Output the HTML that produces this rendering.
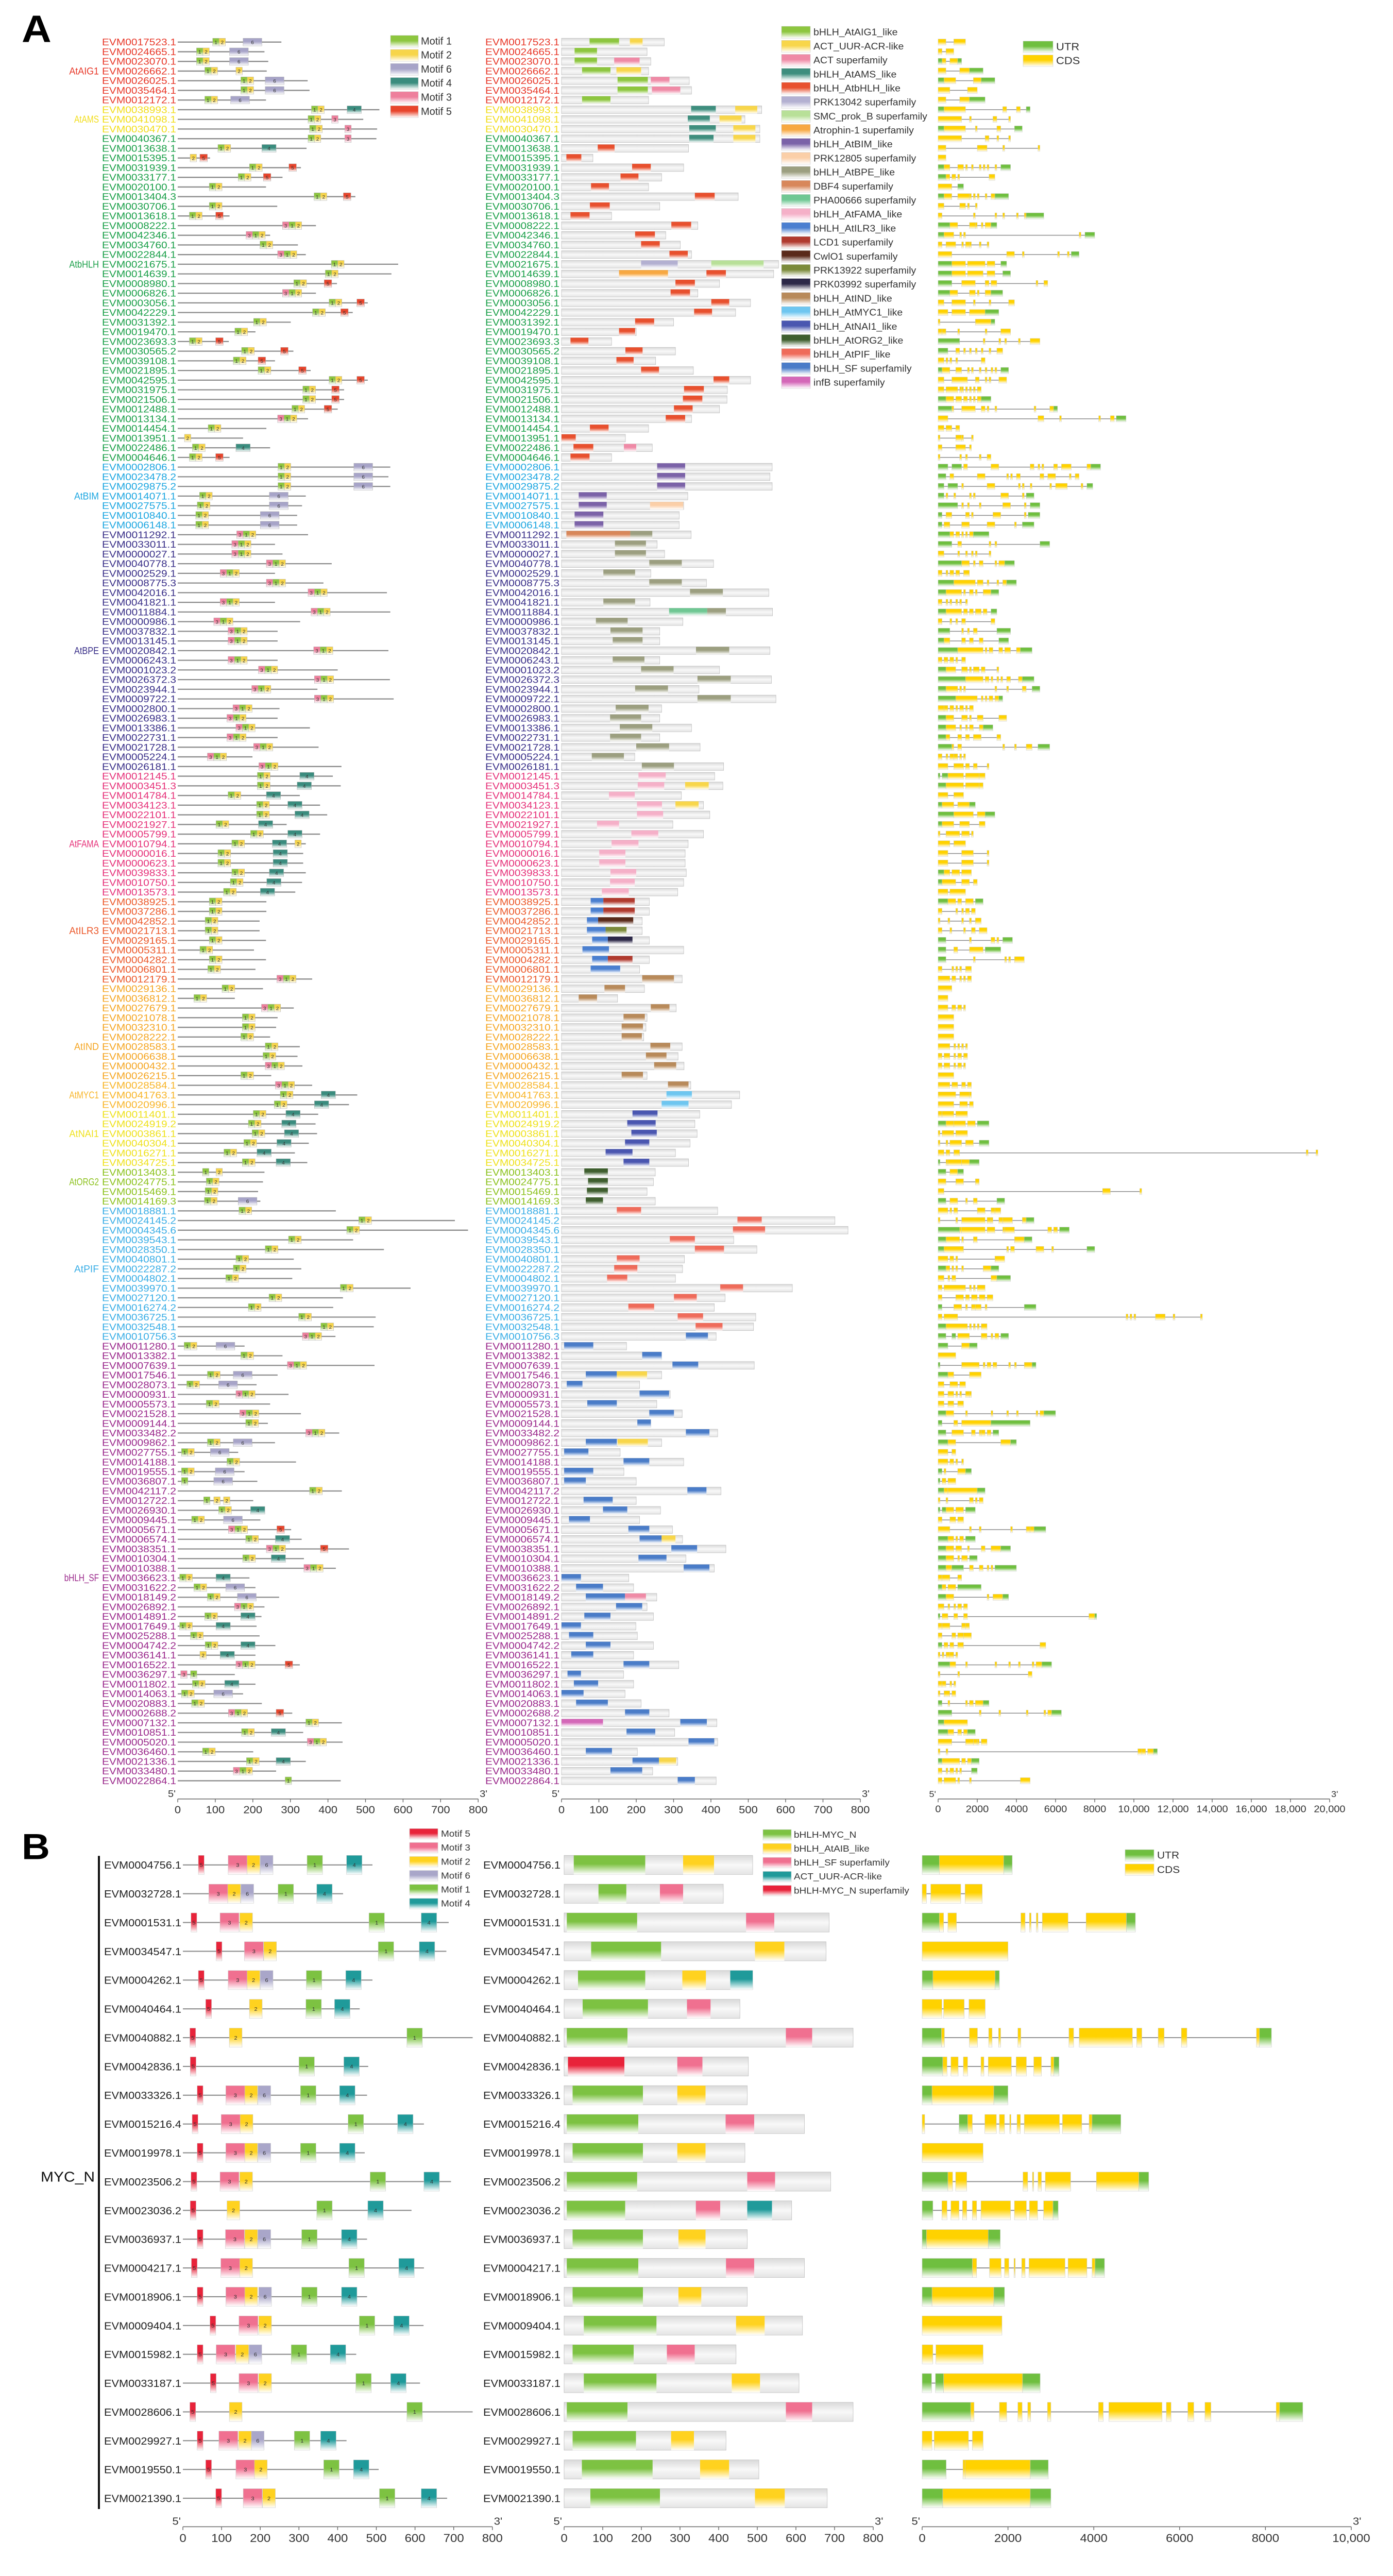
<!DOCTYPE html>
<html><head><meta charset="utf-8"><title>bHLH gene structure figure</title>
<style>html,body{margin:0;padding:0;background:#fff;width:100%;height:100%;overflow:hidden}svg#fig{display:block;position:fixed;left:0;top:0;width:100vw;height:100vh}text{font-family:"Liberation Sans",sans-serif}</style>
</head><body>
<svg id="fig" xmlns="http://www.w3.org/2000/svg" viewBox="0 0 2704 5387" preserveAspectRatio="none">
<defs id="defs"></defs>
<rect x="0" y="0" width="2704" height="5387" fill="#ffffff"/>
<text x="42" y="88" font-family="Liberation Serif,serif" font-weight="bold" font-size="80">A</text>
<text x="42" y="3888" font-family="Liberation Serif,serif" font-weight="bold" font-size="76">B</text>
<g id="layer"></g>
</svg>
<script>
// ---------------- Panel A data ----------------
const aGroupNames = ["AtAIG1","AtAMS","AtbHLH","AtBIM","AtBPE","AtFAMA","AtILR3","AtIND","AtMYC1","AtNAI1","AtORG2","AtPIF","bHLH_SF"];
const aGroupColors = ["#e8392a","#f2de1c","#1ca04a","#1ea7e1","#3a3089","#e6337a","#ec5a2c","#f5a623","#f8b62b","#efe21f","#8dc21f","#3aaee6","#9b2a8c"];
const aGroupCounts = [7,3,34,7,25,13,9,10,3,6,4,14,46];
const aGroupLabelRows = [4,9,24,48,64,84,93,105,110,114,119,128,160];
const aNames = ["17523.1","24665.1","23070.1","26662.1","26025.1","35464.1","12172.1",
"38993.1","41098.1","30470.1",
"40367.1","13638.1","15395.1","31939.1","33177.1","20100.1","13404.3","30706.1","13618.1","08222.1","42346.1","34760.1","22844.1","21675.1","14639.1","08980.1","06826.1","03056.1","42229.1","31392.1","19470.1","23693.3","30565.2","39108.1","21895.1","42595.1","31975.1","21506.1","12488.1","13134.1","14454.1","13951.1","22486.1","04646.1",
"02806.1","23478.2","29875.2","14071.1","27575.1","10840.1","06148.1",
"11292.1","33011.1","00027.1","40778.1","02529.1","08775.3","42016.1","41821.1","11884.1","00986.1","37832.1","13145.1","20842.1","06243.1","01023.2","26372.3","23944.1","09722.1","02800.1","26983.1","13386.1","22731.1","21728.1","05224.1","26181.1",
"12145.1","03451.3","14784.1","34123.1","22101.1","21927.1","05799.1","10794.1","00016.1","00623.1","39833.1","10750.1","13573.1",
"38925.1","37286.1","42852.1","21713.1","29165.1","05311.1","04282.1","06801.1","12179.1",
"29136.1","36812.1","27679.1","21078.1","32310.1","28222.1","28583.1","06638.1","00432.1","26215.1",
"28584.1","41763.1","20996.1",
"11401.1","24919.2","03861.1","40304.1","16271.1","34725.1",
"13403.1","24775.1","15469.1","14169.3",
"18881.1","24145.2","04345.6","39543.1","28350.1","40801.1","22287.2","04802.1","39970.1","27120.1","16274.2","36725.1","32548.1","10756.3",
"11280.1","13382.1","07639.1","17546.1","28073.1","00931.1","05573.1","21528.1","09144.1","33482.2","09862.1","27755.1","14188.1","19555.1","36807.1","42117.2","12722.1","26930.1","09445.1","05671.1","06574.1","38351.1","10304.1","10388.1","36623.1","31622.2","18149.2","26892.1","14891.2","17649.1","25288.1","04742.2","36141.1","16522.1","36297.1","11802.1","14063.1","20883.1","02688.2","07132.1","10851.1","05020.1","36460.1","21336.1","33480.1","22864.1"];
const aProtLen = [276,231,241,237,346,351,235,537,494,531,529,343,86,328,279,235,473,265,138,368,246,320,341,587,569,424,368,506,466,301,207,136,308,259,354,506,443,443,426,347,236,174,246,138,566,561,566,341,331,318,318,347,259,279,410,259,388,557,259,566,326,266,266,561,266,426,565,372,575,271,266,352,266,375,199,436,413,434,325,379,398,290,379,341,334,334,341,331,313,236,236,218,218,235,203,235,207,358,227,152,309,266,262,246,325,319,332,249,358,478,456,374,367,371,349,312,345,231,227,214,220,421,738,773,467,549,309,329,305,620,440,414,527,522,420,178,279,524,266,210,295,246,328,240,430,259,161,315,178,212,437,201,229,220,302,330,456,336,421,191,207,270,231,223,210,218,260,207,325,152,207,174,224,305,437,334,439,201,341,262,434];
const aMotifs = ["12:93 6:174","12:50 6:138","12:50 6:138","12:72 2:155","12:168 6:233","12:168 6:233","12:72 6:141","12:356 4:451","12:347 3:410","12:351 3:445","12:347 3:445","12:107 4:224","2:33 5:59","12:191 5:296","12:161 5:228","12:84","12:363 5:441","12:84","12:31 5:101","312:279","312:182","12:219","312:266","12:409","12:393","12:309 5:390","312:279","12:403 5:477","12:359 5:434","12:202","12:152","12:31 5:101","12:170 5:274","12:148 5:214","12:214 5:322","12:403 5:477","12:333 5:410","12:333 5:410","12:304 5:390","312:266","12:81","2:18","12:39 4:155","12:31 5:101",
"12:267 6:469","12:267 6:469","12:267 6:469","12:58 6:244","12:52 6:244","12:48 6:220","12:48 6:220",
"312:157","312:144","312:144","312:236","312:113","312:236","312:347","312:113","312:355","312:96","312:134","312:134","312:362","312:134","312:215","312:364","312:197","312:364","312:147","312:131","312:155","312:131","312:202","312:79","312:216",
"12:212 4:325","12:212 4:318","12:134 4:236","12:210 4:293","12:210 4:312","12:102 4:215","12:194 4:293","12:144 4:252 2:312","12:107 4:254","12:107 4:254","12:144 4:244","12:140 4:237","12:122 4:220",
"12:84","12:84","12:73","12:73","12:84","12:59","12:84","12:80","312:264",
"12:118","12:43","312:223","12:172","12:172","12:168","12:233","12:227","312:233","12:168",
"312:260","12:273 4:382","12:257 4:364",
"12:201 4:288","12:188 4:277","12:198 4:284","12:176 4:264","12:123 4:211","12:172 4:262",
"1:66 2:102","12:76","12:73","12:71 6:161",
"12:163","12:482","12:450","12:295","12:233","12:155","12:148","12:128","12:433","12:243","12:188","12:322","12:381","312:332",
"12:17 6:102","12:168","312:292","12:79 6:148","12:24 6:109","312:155","12:76","312:165","12:181","312:341","12:79 6:148","12:10 6:87","12:131","12:10 6:100","1:10 6:96","12:351","1:69 2:96 2:122","12:109 4:194","12:37 6:122","312:135 5:264","12:181 4:260","312:236 5:380","12:173 4:249","312:336","12:5 4:102","12:43 6:128","12:79 6:159","312:151","12:72 4:168","12:5 4:102","12:34","12:73 4:168","2:59 4:113","312:155 5:286","3:8 1:34","12:39 4:125","12:10 6:96","12:37","312:135 5:262","12:341","12:170 4:249","312:345","12:66","12:183 4:262","312:148","1:286"];
const aDomLen = [275,229,239,233,342,348,233,536,491,531,531,340,84,327,268,233,473,263,134,365,279,318,348,581,568,423,365,506,466,300,200,134,305,252,353,506,444,443,423,348,233,171,243,134,564,558,564,338,327,315,315,347,256,276,407,239,388,555,237,565,325,263,263,558,263,423,562,368,574,268,263,348,263,371,196,434,410,432,321,380,397,298,380,339,331,331,334,327,311,235,235,216,216,235,327,235,209,323,222,150,307,229,226,220,323,312,328,229,346,477,455,370,357,363,344,305,340,251,246,229,251,418,732,767,461,523,329,324,305,618,438,409,520,514,414,174,268,516,268,209,291,255,323,239,418,268,157,327,167,200,427,200,265,209,297,324,440,333,409,180,193,255,229,246,199,203,246,193,314,166,193,170,213,288,416,303,418,203,311,244,414];
const aDomains = ["AIG1:75-154 UUR:183-217","AIG1:35-95","AIG1:35-95 ACT:141-209","AIG1:55-131 UUR:147-213","AIG1:150-231 ACT:239-289","AIG1:150-231 ACT:242-318","AIG1:55-131","AMS:347-413 UUR:465-524","AMS:338-397 UUR:423-482","AMS:342-413 UUR:460-519","AMS:342-407 UUR:460-519","HLH:97-142","HLH:13-53","HLH:189-239","HLH:158-206","HLH:79-127","HLH:357-410","HLH:76-129","HLH:24-75","HLH:294-347","HLH:197-250","HLH:213-263","HLH:289-338","PRK42:213-311 SMC:401-541","ATR:154-285 HLH:388-440","HLH:305-357","HLH:292-344","HLH:401-449","HLH:355-403","HLH:197-248","HLH:154-197","HLH:24-72","HLH:171-217","HLH:147-193","HLH:213-261","HLH:407-449","HLH:328-381","HLH:325-377","HLH:301-351","HLH:279-331","HLH:76-126","HLH:0-38","HLH:32-85 ACT:167-200","HLH:24-75",
"BIM:256-331","BIM:256-331","BIM:256-331","BIM:46-121","BIM:46-121 P05:237-326","BIM:35-112","BIM:35-112",
"DBF:13-184 BPE:184-243","BPE:143-226","BPE:143-226","BPE:235-322","BPE:112-197","BPE:235-322","BPE:344-432","BPE:112-197","PHA:288-390 BPE:390-440","BPE:92-177","BPE:131-217","BPE:137-217","BPE:360-449","BPE:137-222","BPE:213-300","BPE:364-453","BPE:197-285","BPE:364-453","BPE:145-233","BPE:130-213","BPE:156-243","BPE:130-213","BPE:200-288","BPE:81-167","BPE:215-301",
"FAMA:206-279","FAMA:204-275 UUR:331-394","FAMA:127-196","FAMA:202-269 UUR:305-367","FAMA:202-272","FAMA:95-154","FAMA:187-259","FAMA:134-206","FAMA:101-171","FAMA:101-171","FAMA:131-200","FAMA:130-196","FAMA:108-180",
"ILR:78-112 LCD:112-196","ILR:78-112 LCD:112-196","ILR:68-98 CWL:98-192","ILR:68-118 P22:118-174","ILR:82-124 P92:124-190","ILR:56-127","ILR:82-124 LCD:124-190","ILR:78-157","IND:216-301",
"IND:115-170","IND:46-95","IND:239-289","IND:166-223","IND:161-218","IND:161-215","IND:238-291","IND:226-281","IND:248-307","IND:161-218",
"IND:285-340","MYC:281-349","MYC:268-340",
"NAI:190-257","NAI:176-252","NAI:187-255","NAI:170-235","NAI:118-190","NAI:166-235",
"ORG:61-124","ORG:71-124","ORG:68-124","ORG:65-111",
"PIF:148-213","PIF:471-536","PIF:459-545","PIF:290-357","PIF:357-435","PIF:148-209","PIF:141-203","PIF:122-176","PIF:425-486","PIF:301-362","PIF:179-248","PIF:311-379","PIF:359-431","SF:333-392",
"SF:7-85","SF:216-268","SF:297-366","SF:65-148 UUR:148-229","SF:14-56","SF:209-288","SF:69-148","SF:235-301","SF:203-239","SF:333-396","SF:65-148 UUR:150-231","SF:7-72","SF:166-235","SF:7-85","SF:7-65","SF:337-388","SF:59-137","SF:111-176","SF:20-76","SF:179-235","SF:209-268 UUR:268-305","SF:294-363","SF:206-281","SF:327-396","SF:0-52","SF:39-111","SF:65-170 ACT:170-226","SF:146-216","SF:61-131","SF:0-52","SF:20-85","SF:65-131","SF:26-85","SF:166-235","SF:16-52","SF:33-98","SF:0-59","SF:39-124","SF:170-235","INFB:0-111 SF:318-389","SF:174-251","SF:340-409","SF:65-135","SF:190-261 UUR:261-307","SF:131-216","SF:311-357"];
// gene structures, positions in units of 100 bp
const aGenes = ["0-4c 8-14c","0-2c 4-8c","0-2u 2-4c 6-10c 10-12u","0-4c 11-16c 16-23u","0-3u 3-9c 18-22c 22-29u","0-6c 15-20c","0-4c 11-16c 16-24u",
"0-3u 3-14c 33-35c 40-42c 45-47u","0-12c 16-17c 28-30c 36-37c","0-3u 3-14c 19-20c 30-32c 39-43u","0-12c 24-26c 30-31c 36-37c",
"0-4c 20-25c 33-34c 51-52c","0-4c","0-3u 3-6c 10-13c 14-15c 17-18c 21-22c 23-24c 25-26c 29-30c 32-37u","0-4u 4-6c 7-9c 10-11c 26-29c","0-7c 10-13u","0-3u 3-7c 10-16c 16-17c 18-19c 20-21c 24-25c 27-29c 29-36u","0-3c 11-14c 15-16c 19-20c","0-2c 18-19c 29-30c 33-34c 40-41c 44-45c 45-54u","0-6u 6-10c 16-19c 19-20c 22-23c 24-27c 27-30u","0-3u 3-8c 11-12c 13-14c 72-73c 75-80u","0-2c 4-9c 12-13c 14-16c 16-17c 21-22c 25-26c","0-7c 35-39c 43-44c 61-62c 66-67c 68-72u","0-7u 7-14c 15-24c 25-29c 32-35u","0-7u 7-14c 15-23c 25-29c 33-37u","0-7u 12-19c 24-26c 27-30c 50-51c 54-56c","0-6u 6-10c 16-19c 20-21c 24-27c 27-33u","0-3c 7-14c 18-19c 26-27c 36-39c","0-5c 7-14c 16-24c 24-31u","0-1c 19-27c 27-29u","0-2c 2-4c 10-11c 24-25c 32-37c","0-11u 23-24c 31-32c 34-35c 41-42c 47-52c","0-5u 9-11c 13-14c 16-17c 19-20c 22-23c 26-27c 30-33c","0-3c 4-5c 6-7c 9-10c 22-24c","0-2u 2-6c 9-12c 15-16c 17-18c 21-22c 24-25c 27-28c 29-30c 32-36u","0-3c 7-15c 19-21c 24-25c 26-27c 31-35c","0-3c 4-10c 11-12c 12-13c 14-15c 16-17c 18-19c 20-22c","0-4u 4-8c 9-12c 13-15c 16-17c 18-19c 20-22c 22-27u","0-7u 7-8c 12-19c 22-24c 25-26c 29-30c 49-50c 57-59c 59-61u","0-5c 51-54c 62-63c 82-83c 88-90c 91-96u","0-3c 4-7c 9-11c","0-1c 9-12c 12-13c 17-18c","0-2c 9-14c 16-17c","0-1c 11-12c 14-15c 21-22c 25-27c",
"0-5u 7-12u 13-15c 27-31c 47-49c 51-52c 53-54c 59-61c 63-68c 76-78c 78-83u","0-4u 6-8c 20-24c 35-36c 37-38c 40-42c 52-54c 56-60c 67-68c 70-72c","0-3u 5-10u 12-13c 25-29c 41-42c 43-44c 47-48c 57-58c 60-66c 73-74c 76-79u","0-3u 4-5c 8-9c 16-17c 18-19c 32-36c 43-44c 45-49u","0-10u 12-13c 15-16c 21-22c 33-37c 44-45c 47-52u","0-2u 4-7c 14-16c 17-18c 28-32c 44-45c 46-52u","0-2u 3-6c 12-16c 25-29c 39-40c 43-49u",
"0-6u 6-8c 9-11c 12-13c 14-15c 16-18c 18-26u","0-7u 10-12c 26-27c 29-30c 52-57u","0-3c 10-11c 14-15c 17-18c 19-20c 26-27c","0-12u 12-16c 18-19c 21-23c 29-30c 31-34c 34-39u","0-2c 4-5c 6-8c 9-11c 13-16c","0-8u 8-19c 20-23c 25-26c 30-31c 33-35c 35-40u","0-4u 4-12c 13-14c 16-18c 19-20c 23-27c 27-31u","0-2c 4-5c 6-7c 9-10c 11-12c 14-15c","0-4u 4-12c 13-15c 16-18c 19-22c 23-25c 27-30u","0-2c 6-7c 9-10c 12-14c 27-29c","0-6u 12-13c 15-16c 18-20c 30-37u","0-3u 3-6c 12-14c 16-18c 21-23c 31-36u","0-10u 10-23c 24-25c 26-28c 31-33c 34-37c 40-42c 42-48u","0-2c 3-5c 6-8c 9-10c 12-14c","0-4u 4-9c 12-15c 16-17c 18-21c 22-24c 30-31c","0-14u 14-23c 24-26c 27-28c 30-31c 32-33c 35-37c 41-43c 43-49u","0-4u 4-10c 11-12c 13-14c 29-30c 35-36c 43-45c 48-52u","0-9u 9-20c 22-23c 24-25c 26-28c 29-31c 31-33u","0-3c 3-5c 6-8c 9-10c 11-13c 14-15c 16-18c","0-4u 4-8c 12-15c 16-17c 20-23c 31-35c","0-4u 4-9c 11-12c 14-15c 16-18c 21-23c 23-28u","0-4u 4-6c 10-12c 14-16c 18-22c 30-32c","0-7u 7-8c 10-12c 33-34c 39-40c 45-48c 51-57u","0-2c 4-5c 6-8c 8-10c 11-12c 13-14c","0-5c 8-13c 14-16c 18-20c 25-26c",
"0-1u 2-5u 5-13c 14-21c 21-24c","0-4u 4-13c 14-21c 21-23c","0-5c 8-13c","0-2u 2-8c 10-16c 16-19u","0-8u 8-18c 20-24c 24-29u","0-2u 2-8c 11-16c 21-24c","0-1c 4-11c 12-16c 17-18c","0-6c 8-14c","0-5c 12-18c 25-26c","0-5c 12-18c 25-26c","0-3u 3-6c 7-11c 12-17c","0-2u 2-9c 12-16c 18-20c","0-5c 6-14c",
"0-5u 5-9c 10-12c 14-18c 19-23u","0-2c 9-10c 12-13c 14-16c 17-19c","0-1c 5-6c 12-13c 16-17c 19-22c","0-2c 6-7c 13-14c 17-19c 21-25c","0-4u 16-17c 27-29c 30-31c 33-38u","0-4u 8-10c 16-23c 24-32u","0-4u 18-19c 34-35c 36-37c 39-44c","0-2c 7-8c 9-10c 11-12c 14-17c","0-6c 7-9c 11-12c 13-14c 15-17c",
"0-7c","0-5c","0-5c 7-9c 10-12c 13-14c","0-8c","0-8c","0-8c","0-6c 8-9c 10-11c 12-13c 14-15c","0-2c 3-6c 8-9c 10-12c 13-15c","0-2c 3-6c 8-9c 10-12c 13-14c","0-8c",
"0-6c 7-10c 12-14c 15-17c","0-9c 11-16c 16-17c","0-8c 11-15c 16-18c",
"0-2c 2-8c 9-15c","0-4u 4-8c 8-14c 15-19c 20-26u","0-1c 2-8c 9-15c","0-1c 4-5c 6-12c 14-18c 21-26u","0-3c 4-6c 8-11c 188-189c 193-194c","0-1u 4-5c 5-12c 12-16c 16-21u",
"0-4u 6-10c 10-13u","0-4c 9-13c 19-21c","0-3c 84-88c 103-104c","0-4u 6-10c 14-15c 18-20c 30-34u",
"0-5c 6-7c 8-10c 20-24c 27-29c 29-32c","0-1c 9-10c 12-24c 25-27c 27-28c 31-33c 33-38c 43-45c 45-49u","0-11u 11-12c 12-24c 25-29c 33-34c 34-39c 56-58c 59-61c 62-67u","0-4u 4-11c 12-13c 18-20c 39-44c 44-48u","0-3u 3-13c 35-36c 37-39c 50-54c 58-59c 76-80u","0-5c 6-8c 9-10c 29-34c","0-4u 4-6c 7-8c 9-10c 12-13c 23-27c 27-31u","0-3c 5-6c 7-9c 27-30c 30-37u","0-2c 3-14c 16-17c 18-19c 20-24c","0-2c 9-13c 14-16c 17-20c 21-24c 25-28c","0-2u 8-12c 14-15c 17-19c 19-22c 24-25c 44-50u","0-2c 3-10c 96-97c 98-99c 100-101c 111-116c 120-121c 134-135c","0-4u 4-15c 16-17c 18-19c 20-21c 22-25c","0-4u 7-9u 10-16c 22-25c 27-28c 29-31c 32-36u",
"0-5u 12-16c 16-20u","0-9c","0-1u 12-21c 23-24c 25-27c 28-30c 36-37c 39-40c 44-48c 48-50u","0-5u 5-8c 16-22c","0-3c 6-10c 11-14c","0-3c 5-8c 9-10c 11-12c 14-16c 16-17c","0-3c 5-8c 10-13c","0-4u 4-8c 14-15c 27-28c 35-36c 40-41c 50-51c 52-54c 54-60u","0-2u 8-10c 12-27c 27-47u","0-4u 7-13c 17-19c 21-22c 22-24c 25-27c 28-31u","0-5u 5-9c 32-37c 37-40u","0-5c 7-9c","0-5c 6-8c 9-10c 12-13c","0-2u 3-4c 10-14c 14-17u","0-1u 2-4c 5-9c","0-3u 3-5c 5-20c 20-24u","0-1c 4-5c 16-18c 19-20c 21-23c","0-1u 2-4u 4-8c 9-13c 14-19u","0-2c 6-9c 10-13c","0-6c 16-17c 21-22c 37-38c 45-47c 47-49c 49-55u","0-5u 5-8c 9-10c 11-13c 14-19u","0-4u 4-8c 9-12c 15-16c 22-24c 27-32c 32-37u","0-4u 4-8c 10-11c 12-15c 16-20u","0-4u 4-7c 7-13u 16-18c 21-23c 25-26c 27-28c 29-40u","0-2c 2-6c 10-12c","0-2u 2-4c 5-9c 10-22u","0-4u 4-8c 25-26c 28-33c 33-36u","0-3c 5-6c 8-9c 10-12c 13-15c","0-1u 2-5c 8-10c 13-15c 77-80c 80-81u","0-2c 2-6c 12-14c 14-16c","0-2c 7-9c 10-13c 13-17c","0-2u 3-5c 6-8c 10-13c 52-55c","0-1c 2-3c 4-6c 6-8c 9-10c","0-6u 6-9c 14-15c 29-30c 36-37c 41-42c 48-49c 50-53c 53-58u","0-1c 10-11c 46-48c","0-2c 2-4c 6-7c 8-9c","0-1c 3-6c 7-9c","0-2u 5-6c 14-15c 16-18c 19-23c 23-26u","0-7u 21-22c 31-32c 45-46c 54-55c 56-58c 58-63u","0-3u 3-15c","0-5u 5-8c 10-12c 13-15c 15-19u","0-7c 14-18c 18-20c 20-21c 22-25c","0-1c 4-5c 102-104c 104-106c 107-110c 110-112u","0-2u 2-11c 12-14c 15-17c 17-21u","0-2c 4-5c 6-8c 9-10c 11-12c 17-20u","0-2c 3-9c 10-11c 16-17c 42-47c"];

const aAxisTicksAA = [0,100,200,300,400,500,600,700,800];
const aAxisTicksBP = [0,2000,4000,6000,8000,10000,12000,14000,16000,18000,20000];
const aAxisTickLabelsBP = ["0","2000","4000","6000","8000","10,000","12,000","14,000","16,000","18,000","20,000"];

// ---------------- Panel B data ----------------
const bNames = ["04756.1","32728.1","01531.1","34547.1","04262.1","40464.1","40882.1","42836.1","33326.1","15216.4","19978.1","23506.2","23036.2","36937.1","04217.1","18906.1","09404.1","15982.1","33187.1","28606.1","29927.1","19550.1","21390.1"];
const bProtLen = [490,414,687,681,490,457,749,479,476,623,470,693,591,476,623,476,622,448,613,749,423,506,683];
const bMotifs = ["5:40 3:117 2:166 6:200 1:321 4:423","3:67 2:116 6:150 1:246 4:346","5:21 3:96 2:147 1:481 4:616","5:86 3:159 2:209 1:505 4:611","5:40 3:117 2:166 6:200 1:319 4:421","5:59 2:172 1:318 4:392","5:18 2:120 1:579","5:19 1:300 4:416","5:37 3:111 2:160 6:194 1:304 4:405","5:24 3:99 2:148 1:427 4:555","5:37 3:111 2:160 6:194 1:304 4:405","5:21 3:96 2:147 1:484 4:623","5:19 2:114 1:346 4:478","5:37 3:110 2:160 6:194 1:307 4:410","5:22 3:98 2:147 1:429 4:558","5:37 3:111 2:160 6:196 1:307 4:410","5:70 3:145 2:196 1:456 4:545","5:37 3:86 2:137 6:171 1:280 4:381","5:71 3:145 2:196 1:447 4:537","5:18 2:120 1:579","5:37 3:93 2:144 6:177 1:288 4:356","5:59 3:137 2:185 1:364 4:441","5:85 3:156 2:206 1:508 4:616"];
const bDomLen = [488,412,686,678,488,455,748,477,474,622,468,690,589,474,622,474,617,445,608,748,419,504,681];
const bDomains = ["MYCN:25-210 AIB:308-388","MYCN:89-161 SFB:248-308","MYCN:7-189 SFB:471-544","MYCN:70-251 AIB:494-570","MYCN:36-210 AIB:306-367 ACTB:430-488","MYCN:48-217 SFB:318-379","MYCN:7-164 SFB:574-642","MYCSF:10-156 SFB:293-358","MYCN:22-204 AIB:293-366","MYCN:7-192 SFB:418-492","MYCN:22-204 AIB:293-366","MYCN:7-189 SFB:474-546","MYCN:7-158 SFB:341-404 ACTB:474-538","MYCN:22-204 AIB:296-366","MYCN:7-192 SFB:419-492","MYCN:22-204 AIB:296-355","MYCN:51-239 AIB:445-519","MYCN:22-180 SFB:266-338","MYCN:51-239 AIB:434-507","MYCN:7-164 SFB:574-642","MYCN:22-186 AIB:277-336","MYCN:46-229 AIB:352-427","MYCN:68-248 AIB:494-571"];
const bGenes = ["0-4u 4-19c 19-21u","0-1c 2-9c 10-14c","0-4u 4-5c 6-8c 23-24c 25-25.4c 26.6-27c 28-34c 38.2-47.6c 47.6-49.7u","0-20c","0-2.5u 2.5-17c 17-18u","0-4.6c 5-9.8c 10.9-14.7c","0-4.5u 4.5-5.2c 11-12.9c 15.5-16.3c 17.8-18.3c 22.3-23c 34.2-35.3c 36.6-49c 50-51.2c 55-56.4c 60.4-61.7c 77.9-78.6c 78.6-81.4u","0-4.8u 4.8-5.8c 6.7-8.4c 9.6-10.6c 13.7-14.4c 15.4-20.8c 21.9-24.3c 26-27.8c 30-30.7c 30.7-31.9u","0-2.3u 2.3-16.7c 16.7-20u","0-0.6c 8.6-10.6u 10.6-11.7c 14.6-17.3c 18-19.2c 20.4-20.7c 22.1-22.9c 23.8-32c 32.7-37.2c 38.9-39.6c 39.6-46.3u","0-14.2c","0-6u 6-7.1c 7.8-10.4c 23.5-24.6c 25.7-26c 27-27.8c 28.7-34.6c 40.6-50.5c 50.5-52.8u","0-2.5u 4.6-5.8c 6.7-8.6c 9.4-10.4c 11.7-12.7c 13.7-20.6c 21.5-24.3c 25-26.9c 28.3-30.5c 30.5-31.7u","0-1u 1-15.4c 15.4-18.2u","0-11.7u 11.7-12.7c 15.7-18.4c 19.2-20.2c 21.4-21.7c 23.2-24c 24.9-33.3c 34-38.4c 39.6-40.3c 40.3-42.5u","0-2.3u 2.3-16.7c 16.7-19.2u","0-18.6c","0-2.5c 3.2-14.2c","0-2.2u 3.1-5u 5-23.4c 23.4-27.5u","0-11.3u 11.3-12.1c 18-19.7c 22.3-23.3c 24.6-25.3c 29.2-30c 41.1-42.2c 43.5-55.9c 56.9-58c 61.9-63.3c 65.9-67.3c 82.5-83.3c 83.3-88.7u","0-2.3c 2.8-10.8c 11.7-14.2c","0-5.6u 9.5-10c 10-25.2c 25.2-29.4u","0-4.8u 4.8-25.2c 25.2-30u"];
const bAxisTicksBP = [0,2000,4000,6000,8000,10000];
const bAxisTickLabelsBP = ["0","2000","4000","6000","8000","10,000"];

// ---------------- legends ----------------
const aMotifLegend = ["1","2","6","4","3","5"];
const aDomLegendKeys = ["AIG1","UUR","ACT","AMS","HLH","PRK42","SMC","ATR","BIM","P05","BPE","DBF","PHA","FAMA","ILR","LCD","CWL","P22","P92","IND","MYC","NAI","ORG","PIF","SF","INFB"];
const aDomLegendLabels = ["bHLH_AtAIG1_like","ACT_UUR-ACR-like","ACT superfamily","bHLH_AtAMS_like","bHLH_AtbHLH_like","PRK13042 superfamily","SMC_prok_B superfamily","Atrophin-1 superfamily","bHLH_AtBIM_like","PRK12805 superfamily","bHLH_AtBPE_like","DBF4 superfamily","PHA00666 superfamily","bHLH_AtFAMA_like","bHLH_AtILR3_like","LCD1 superfamily","CwlO1 superfamily","PRK13922 superfamily","PRK03992 superfamily","bHLH_AtIND_like","bHLH_AtMYC1_like","bHLH_AtNAI1_like","bHLH_AtORG2_like","bHLH_AtPIF_like","bHLH_SF superfamily","infB superfamily"];
const bMotifLegend = ["5","3","2","6","1","4"];
const bDomLegendKeys = ["MYCN","AIB","SFB","ACTB","MYCSF"];
const bDomLegendLabels = ["bHLH-MYC_N","bHLH_AtAIB_like","bHLH_SF superfamily","ACT_UUR-ACR-like","bHLH-MYC_N superfamily"];

// ---------------- styles ----------------
const motifColA = {"1":"#8dc63f","2":"#f7d54a","3":"#ee7f9c","4":"#3a8c7e","5":"#e8452c","6":"#a7a4c8"};
const motifWA = {"1":17,"2":17,"3":17,"4":38,"5":20,"6":50};
const motifColB = {"1":"#7dc242","2":"#ffd21f","3":"#f07090","4":"#1f9a9a","5":"#e8233a","6":"#a9a6c9"};
const motifWB = {"1":40,"2":33,"3":49,"4":40,"5":15,"6":33};
const domCol = {AIG1:"#8dc63f",UUR:"#f8d64a",ACT:"#ef8aa6",AMS:"#3e8e7e",HLH:"#e8502e",PRK42:"#b3b0d1",SMC:"#b8e098",ATR:"#f7a841",BIM:"#7b62a8",P05:"#fbcfa8",BPE:"#9c9f80",DBF:"#d8875a",PHA:"#6fc793",FAMA:"#f5b0c8",ILR:"#4a7fd0",LCD:"#b03a2e",CWL:"#5a2a1a",P22:"#7b8a3a",P92:"#2c2848",IND:"#b88a5a",MYC:"#6ec6f0",NAI:"#4a56b0",ORG:"#3e5e2e",PIF:"#ef6b5a",SF:"#4a7cc8",INFB:"#d467b8",
 MYCN:"#7dc242",AIB:"#ffd21f",SFB:"#f07090",ACTB:"#1f9a9a",MYCSF:"#e8233a",UTR:"#6fbf3f",CDS:"#ffd200"};

const NS = "http://www.w3.org/2000/svg";
const defs = document.getElementById('defs');
const layer = document.getElementById('layer');
function mk(tag, attrs, parent){ const e=document.createElementNS(NS,tag); for(const k in attrs) e.setAttribute(k,attrs[k]); (parent||layer).appendChild(e); return e; }
function grad(id, c, stops){ const g=mk('linearGradient',{id:id,x1:0,y1:0,x2:0,y2:1},defs); stops.forEach(s=>mk('stop',{offset:s[0],'stop-color':s[1]||c},g)); }
const gradSeen={};
function fillOf(c){ const id='g'+c.replace('#',''); if(!gradSeen[id]){gradSeen[id]=1; grad(id,c,[[0,c],[0.45,c],[1,'#ffffff']]);} return 'url(#'+id+')'; }
grad('gbar','#000',[[0,'#d9d9d9'],[0.5,'#f8f8f8'],[1,'#e4e4e4']]);

// scales
const A_Y0=88, A_DY=20.2;
const aRowY = i => A_Y0 + i*A_DY;
const a1X = aa => 345 + aa*0.729;
const a2X = aa => 1090 + aa*0.725;
const a3X = h => 1821 + h*3.8;
const B_Y0=3900, B_DY=60.2;
const bRowY = i => B_Y0 + i*B_DY;
const b1X = aa => 355 + aa*0.751;
const b2X = aa => 1095 + aa*0.75;
const b3X = h => 1790 + h*8.33;

function parseSeg(s){ const m=s.match(/^([\d.]+)-([\d.]+)([uc])$/); return {a:+m[1],b:+m[2],t:m[3]}; }

// ---------- Panel A rows ----------
const rowColor=[]; aGroupCounts.forEach((n,g)=>{for(let k=0;k<n;k++) rowColor.push(aGroupColors[g]);});
aGroupNames.forEach((gn,g)=>{
  const t=mk('text',{x:192,y:aRowY(aGroupLabelRows[g]-1)+7,'text-anchor':'end','font-size':21,fill:aGroupColors[g],textLength:gn.length*9.6,lengthAdjust:'spacingAndGlyphs'});
  
  
  t.textContent=gn;
});
aNames.forEach((nm,i)=>{
  const y=aRowY(i), col=rowColor[i], full='EVM00'+nm;
  const t1=mk('text',{x:342,y:y+7,'text-anchor':'end','font-size':20,fill:col,textLength:144,lengthAdjust:'spacingAndGlyphs'});
  
  
  t1.textContent=full;
  const ln=mk('line',{x1:a1X(0),x2:a1X(aProtLen[i]),y1:y,y2:y,stroke:'#8c8c8c','stroke-width':2.5});
  
  
  aMotifs[i].split(' ').forEach(tok=>{
    const [keys,p]=tok.split(':'); let pos=+p;
    keys.split('').forEach(k=>{
      const w=motifWA[k];
      const r=mk('rect',{x:a1X(pos),y:y-8,width:w*0.729,height:16,fill:fillOf(motifColA[k]),stroke:'#b0b0b0','stroke-width':0.6});
      
      
      const tt=mk('text',{x:a1X(pos+w/2),y:y+4,'text-anchor':'middle','font-size':10,fill:'#333'});
      
      
      tt.textContent=k;
      pos+=w;
    });
  });
  const t2=mk('text',{x:1086,y:y+7,'text-anchor':'end','font-size':20,fill:col,textLength:144,lengthAdjust:'spacingAndGlyphs'});
  
  
  t2.textContent=full;
  const bar=mk('rect',{x:a2X(0),y:y-8,width:a2X(aDomLen[i])-a2X(0),height:16,fill:'url(#gbar)',stroke:'#bdbdbd','stroke-width':0.8});
  
  
  aDomains[i].split(' ').forEach(tok=>{
    const [k,r]=tok.split(':'); const [s,e]=r.split('-').map(Number);
    const d=mk('rect',{x:a2X(s),y:y-8,width:a2X(e)-a2X(s),height:16,fill:fillOf(domCol[k])});
    
    
  });
  const segs=aGenes[i].split(' ').map(parseSeg);
  const mx=Math.max(...segs.map(s=>s.b));
  const gl=mk('line',{x1:a3X(0),x2:a3X(mx),y1:y,y2:y,stroke:'#8c8c8c','stroke-width':1.6});
  
  
  segs.forEach(s=>{
    const ex=mk('rect',{x:a3X(s.a),y:y-6.5,width:Math.max(1.5,a3X(s.b)-a3X(s.a)),height:13,fill:fillOf(s.t==='u'?domCol.UTR:domCol.CDS),stroke:'#c8c8c8','stroke-width':0.5});
    
    
  });
});

// ---------- axes ----------
function axis(x0,x1,y,ticks,labels,toX,fs,nm){
  const l=mk('line',{x1:x0,x2:x1,y1:y,y2:y,stroke:'#666','stroke-width':1.6});
  
  
  ticks.forEach((v,j)=>{
    const tk=mk('line',{x1:toX(v),x2:toX(v),y1:y,y2:y+7,stroke:'#666','stroke-width':1.4});
    
    
    const tl=mk('text',{x:toX(v),y:y+fs+8,'text-anchor':'middle','font-size':fs,fill:'#333'});
    
    
    tl.textContent=labels[j];
  });
  const p5=mk('text',{x:x0-4,y:y-4,'text-anchor':'end','font-size':fs-2,fill:'#333'});
  
  
  p5.textContent="5'";
  const p3=mk('text',{x:x1+3,y:y-4,'font-size':fs-2,fill:'#333'});
  
  
  p3.textContent="3'";
}
const AY=3762;
axis(a1X(0),a1X(800),AY,aAxisTicksAA,aAxisTicksAA.map(String),a1X,22,'a-motif');
axis(a2X(0),a2X(800),AY,aAxisTicksAA,aAxisTicksAA.map(String),a2X,22,'a-domain');
axis(a3X(0),a3X(200),AY,aAxisTicksBP,aAxisTickLabelsBP,v=>a3X(v/100),20,'a-gene');

// ---------- legends A ----------
aMotifLegend.forEach((k,j)=>{
  const y=74+j*29.4;
  const r=mk('rect',{x:758,y:y,width:54,height:25,fill:fillOf(motifColA[k]),stroke:'#ccc','stroke-width':0.6});
  
  
  const t=mk('text',{x:817,y:y+19,'font-size':22,fill:'#333',textLength:60,lengthAdjust:'spacingAndGlyphs'});
  
  
  t.textContent='Motif '+k;
});
aDomLegendKeys.forEach((k,j)=>{
  const y=55+j*29.3;
  const r=mk('rect',{x:1517,y:y,width:56,height:25,fill:fillOf(domCol[k]),stroke:'#ccc','stroke-width':0.6});
  
  
  const t=mk('text',{x:1579,y:y+19,'font-size':19.5,fill:'#333'});
  
  
  t.textContent=aDomLegendLabels[j];
});
[['UTR',86],['CDS',115]].forEach(([k,y])=>{
  const r=mk('rect',{x:1986,y:y,width:58,height:24,fill:fillOf(domCol[k]),stroke:'#ccc','stroke-width':0.6});
  
  
  const t=mk('text',{x:2050,y:y+19,'font-size':22,fill:'#333'});
  
  
  t.textContent=k;
});

// ---------- Panel B ----------
const vb=mk('line',{x1:192,x2:192,y1:3881,y2:5247,stroke:'#111','stroke-width':4});


const mycl=mk('text',{x:184,y:4562,'text-anchor':'end','font-size':30,fill:'#111'});


mycl.textContent='MYC_N';
bNames.forEach((nm,i)=>{
  const y=bRowY(i), full='EVM00'+nm;
  const t1=mk('text',{x:352,y:y+8,'text-anchor':'end','font-size':22,fill:'#222',textLength:150,lengthAdjust:'spacingAndGlyphs'});
  
  
  t1.textContent=full;
  const ln=mk('line',{x1:b1X(0),x2:b1X(bProtLen[i]),y1:y,y2:y,stroke:'#8c8c8c','stroke-width':2.2});
  
  
  bMotifs[i].split(' ').forEach(tok=>{
    const [k,p]=tok.split(':'); const w=motifWB[k];
    const r=mk('rect',{x:b1X(+p),y:y-20,width:w*0.751,height:40,fill:fillOf(motifColB[k]),stroke:'#c8c8c8','stroke-width':0.6});
    
    
    const tt=mk('text',{x:b1X(+p+w/2),y:y+4,'text-anchor':'middle','font-size':11,fill:'#333'});
    
    
    tt.textContent=k;
  });
  const t2=mk('text',{x:1088,y:y+8,'text-anchor':'end','font-size':22,fill:'#222',textLength:150,lengthAdjust:'spacingAndGlyphs'});
  
  
  t2.textContent=full;
  const bar=mk('rect',{x:b2X(0),y:y-20,width:b2X(bDomLen[i])-b2X(0),height:40,fill:'url(#gbar)',stroke:'#bdbdbd','stroke-width':0.8});
  
  
  bDomains[i].split(' ').forEach(tok=>{
    const [k,r]=tok.split(':'); const [s,e]=r.split('-').map(Number);
    const d=mk('rect',{x:b2X(s),y:y-20,width:b2X(e)-b2X(s),height:40,fill:fillOf(domCol[k])});
    
    
  });
  const segs=bGenes[i].split(' ').map(parseSeg);
  const mx=Math.max(...segs.map(s=>s.b));
  const gl=mk('line',{x1:b3X(0),x2:b3X(mx),y1:y,y2:y,stroke:'#8c8c8c','stroke-width':2});
  
  
  segs.forEach(s=>{
    const ex=mk('rect',{x:b3X(s.a),y:y-20,width:Math.max(2,b3X(s.b)-b3X(s.a)),height:40,fill:fillOf(s.t==='u'?domCol.UTR:domCol.CDS),stroke:'#c8c8c8','stroke-width':0.6});
    
    
  });
});
const BY=5284;
axis(b1X(0),b1X(800),BY,aAxisTicksAA,aAxisTicksAA.map(String),b1X,24,'b-motif');
axis(b2X(0),b2X(800),BY,aAxisTicksAA,aAxisTicksAA.map(String),b2X,24,'b-domain');
axis(b3X(0),b3X(100),BY,bAxisTicksBP,bAxisTickLabelsBP,v=>b3X(v/100),24,'b-gene');

bMotifLegend.forEach((k,j)=>{
  const y=3824+j*29.2;
  const r=mk('rect',{x:795,y:y,width:55,height:22,fill:fillOf(motifColB[k]),stroke:'#ccc','stroke-width':0.6});
  
  
  const t=mk('text',{x:856,y:y+17,'font-size':19,fill:'#333'});
  
  
  t.textContent='Motif '+k;
});
bDomLegendKeys.forEach((k,j)=>{
  const y=3826+j*29.2;
  const r=mk('rect',{x:1481,y:y,width:55,height:22,fill:fillOf(domCol[k]),stroke:'#ccc','stroke-width':0.6});
  
  
  const t=mk('text',{x:1541,y:y+17,'font-size':19,fill:'#333'});
  
  
  t.textContent=bDomLegendLabels[j];
});
[['UTR',3868],['CDS',3898]].forEach(([k,y])=>{
  const r=mk('rect',{x:2184,y:y,width:56,height:24,fill:fillOf(domCol[k]),stroke:'#ccc','stroke-width':0.6});
  
  
  const t=mk('text',{x:2246,y:y+19,'font-size':21,fill:'#333'});
  
  
  t.textContent=k;
});
</script>
</body></html>
